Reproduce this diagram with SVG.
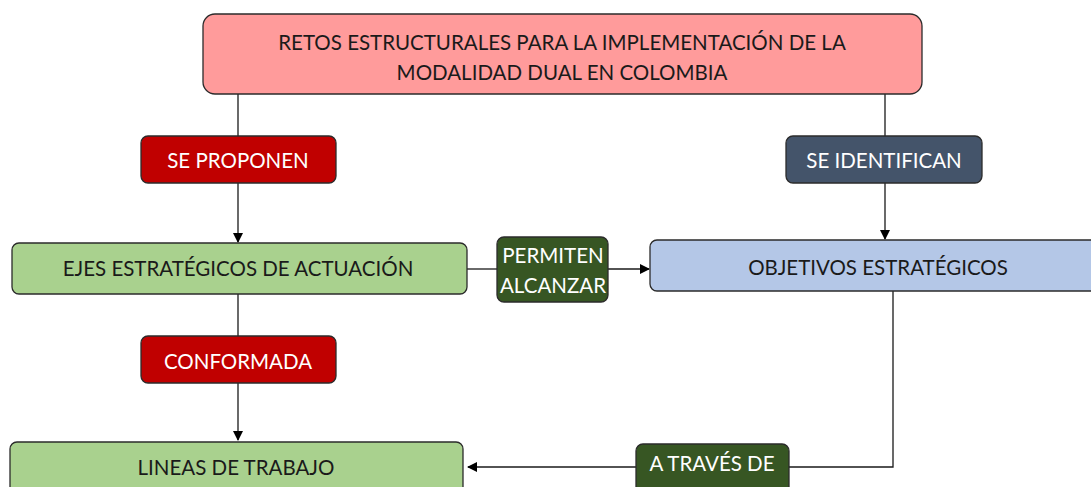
<svg xmlns="http://www.w3.org/2000/svg" width="1091" height="487" viewBox="0 0 1091 487">
<style>
text{font-family:Lato,"Liberation Sans",sans-serif;font-size:20.5px;text-anchor:middle;dominant-baseline:central}
.box{stroke:#2b2b2b;stroke-width:1.3}
.dk{fill:#1a1a1a}
.wt{fill:#ffffff}
.ln{stroke:#1a1a1a;stroke-width:1.3;fill:none}
</style>
<defs>
<marker id="ah" markerWidth="10" markerHeight="10" refX="9" refY="5" orient="auto" markerUnits="userSpaceOnUse">
<path d="M0,0 L10,5 L0,10 Z" fill="#000"/>
</marker>
</defs>
<rect width="1091" height="487" fill="#ffffff"/>
<g id="connectors">
<line class="ln" x1="238" y1="94" x2="238" y2="136"/>
<line class="ln" x1="238" y1="183" x2="238" y2="242" marker-end="url(#ah)"/>
<line class="ln" x1="885" y1="94" x2="885" y2="136"/>
<line class="ln" x1="885" y1="183" x2="885" y2="239" marker-end="url(#ah)"/>
<line class="ln" x1="467" y1="269" x2="497" y2="269"/>
<line class="ln" x1="608" y1="269" x2="649" y2="269" marker-end="url(#ah)"/>
<line class="ln" x1="238" y1="294" x2="238" y2="336"/>
<line class="ln" x1="238" y1="383" x2="238" y2="440" marker-end="url(#ah)"/>
<polyline class="ln" points="893,291 893,467 789,467"/>
<line class="ln" x1="636" y1="467" x2="468" y2="467" marker-end="url(#ah)"/>
</g>
<g id="retos">
<rect class="box" x="203" y="14" width="719" height="80" rx="12" fill="#ff9b9b"/>
<text class="dk" x="562" y="42">RETOS ESTRUCTURALES PARA LA IMPLEMENTACIÓN DE LA</text>
<text class="dk" x="562" y="72">MODALIDAD DUAL EN COLOMBIA</text>
</g>
<g id="se-proponen">
<rect class="box" x="141" y="136" width="195" height="47" rx="7" fill="#c00000"/>
<text class="wt" x="238" y="160">SE PROPONEN</text>
</g>
<g id="se-identifican">
<rect class="box" x="786" y="136" width="196" height="47" rx="7" fill="#44546a"/>
<text class="wt" x="884" y="160">SE IDENTIFICAN</text>
</g>
<g id="ejes">
<rect class="box" x="12" y="243" width="455" height="51" rx="7" fill="#a9d18e"/>
<text class="dk" x="238" y="268">EJES ESTRATÉGICOS DE ACTUACIÓN</text>
</g>
<g id="permiten">
<rect class="box" x="497" y="237" width="111" height="65" rx="7" fill="#375623"/>
<text class="wt" x="553" y="255">PERMITEN</text>
<text class="wt" x="553" y="285">ALCANZAR</text>
</g>
<g id="objetivos">
<rect class="box" x="650" y="240" width="450" height="51" rx="7" fill="#b4c7e7"/>
<text class="dk" x="878" y="267">OBJETIVOS ESTRATÉGICOS</text>
</g>
<g id="conformada">
<rect class="box" x="141" y="336" width="195" height="47" rx="7" fill="#c00000"/>
<text class="wt" x="238" y="361">CONFORMADA</text>
</g>
<g id="lineas">
<rect class="box" x="10" y="442" width="453" height="60" rx="7" fill="#a9d18e"/>
<text class="dk" x="236" y="467">LINEAS DE TRABAJO</text>
</g>
<g id="a-traves">
<rect class="box" x="636" y="444" width="153" height="60" rx="7" fill="#375623"/>
<text class="wt" x="712" y="463">A TRAVÉS DE</text>
</g>
</svg>
